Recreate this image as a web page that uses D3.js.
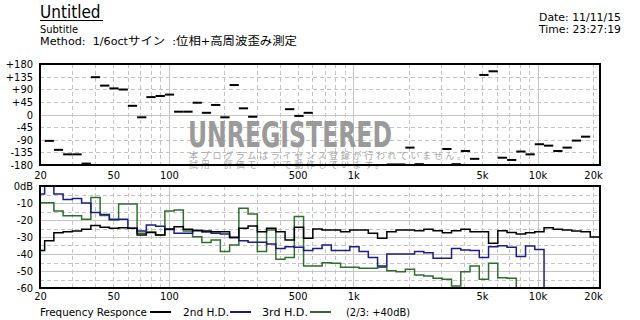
<!DOCTYPE html>
<html lang="ja">
<head>
<meta charset="UTF-8">
<title>Untitled</title>
<script src="https://cdn.jsdelivr.net/npm/d3@7/dist/d3.min.js"></script>
<style>
  body { margin: 0; background: #fff; }
  svg text { font-family: "DejaVu Sans Condensed", "Noto Sans CJK JP", sans-serif; }
</style>
</head>
<body>
<script>
// 1/6oct bands (Hz), index 0..60
const bands = [20, 22.45, 25.2, 28.28, 31.75, 35.64, 40, 44.9, 50.4, 56.57, 63.5, 71.27,
  80, 89.8, 100.8, 113.1, 127, 142.5, 160, 179.6, 201.6, 226.3, 254, 285.1,
  320, 359.2, 403.2, 452.5, 508, 570.2, 640, 718.4, 806.3, 905.1, 1016, 1140,
  1280, 1437, 1613, 1810, 2032, 2281, 2560, 2874, 3225, 3620, 4064, 4561,
  5120, 5747, 6451, 7241, 8127, 9123, 10240, 11494, 12902, 14482, 16255, 18246, 20480];

// phase (deg), null = not drawn
const phase = [null, -94, -126, -142, -142, -175, 133, 103, 93, 89, 31, -10,
  62, 66, 71, 10, 10, 42, 6, 34, -10, 105, 22, -8,
  null, null, null, 19, -5, 6, null, null, null, null, null, null,
  null, null, -178, -178, -118, -177, null, null, -123, -177, -130, -158,
  141, 154, -154, -162, -132, -142, -106, -111, -130, -118, -93, -79, null];

// Frequency Responce (dB)
const freqResp = [-38, -32.2, -27.5, -26.9, -26.5, -25.5, -23.3, -24.3, -24.9, -24.6, -24.9, -28.8,
  -27.3, -28.8, -25.3, -23.9, -25.5, -26.3, -26.5, -26.9, -26.9, -30.2, -24.9, -23.5,
  -26.9, -24.9, -26.9, -31.8, -24.3, -30.8, -25.3, -25.9, -25.9, -26.9, -25.9, -25.9,
  -27.8, -30.8, -26.9, -25.9, -25.9, -26.3, -25.5, -26.3, -27.5, -26.3, -25.5, -26.9,
  -26.9, -33.7, -26.3, -27.3, -28.2, -27.5, -26.9, -24.5, -25.5, -25.9, -26.5, -26.9, -30];

// 2nd H.D. (dB, +40dB)
const hd2 = [-4.7, 0, -4.7, -7.9, -7.3, -10, -15.6, -16.8, -19.6, -19.6, -24.9, -26.5,
  -22.9, -23.7, -25.6, -27.8, -27.8, -26, -27, -27.8, -28.2, -30.5, -32.2, -33.1,
  -33.1, -34.1, -36.7, -35.7, -36.1, -38, -36.7, -34.7, -38, -38, -35.7, -38.6,
  -42, -47, -40, -40, -40, -38.6, -39.2, -42.5, -42.5, -36.7, -37.6, -38,
  -42, -35.7, -35.1, -36.1, -41.4, -35.3, -37.3, -60];

// 3rd H.D. (dB, +40dB)
const hd3 = [-9.8, -9.8, -14.7, -17.5, -17.5, -19.6, -6.7, -17.3, -20, -10.6, -10.6, -27.8,
  -27, -28.8, -14.7, -14.1, -26.5, -29.8, -33.3, -31.8, -38.6, -34.7, -13.1, -16.5,
  -38.6, -25.9, -43.1, -42, -18, -47, -47, -45.1, -45.5, -47.8, -47.8, -48.4,
  -48.4, -47.8, -49.8, -50.4, -49, -52.4, -52.9, -54.3, -54.9, -58.8, -50.4, -47,
  -54.9, -45.5, -53.9, -54.3, -60];

const xTicks = [20, 50, 100, 500, 1000, 5000, 10000, 20000];
const xTickLabels = ["20", "50", "100", "500", "1k", "5k", "10k", "20k"];
const xMajorGrid = [100, 1000, 10000];
const xMinorGrid = [30, 40, 50, 60, 70, 80, 90, 200, 300, 400, 500, 600, 700, 800, 900,
  2000, 3000, 4000, 5000, 6000, 7000, 8000, 9000, 20000];
const phaseTicks = [180, 135, 90, 45, 0, -45, -90, -135, -180];
const phaseLabels = ["+180", "+135", "+90", "+45", "0", "-45", "-90", "-135", "-180"];
const dbTicks = [0, -10, -20, -30, -40, -50, -60];
const dbLabels = ["0dB", "-10", "-20", "-30", "-40", "-50", "-60"];
const dbMinor = [-5, -15, -25, -35, -45, -55];

const W = 640, H = 320;
const left = 40, right = 600;
const gridCol = "#c4c4c4";
const blue = "#1c1c86", green = "#2d6e2d";

const svg = d3.select("body").append("svg").attr("width", W).attr("height", H);

const x = d3.scaleLog().domain([20, 20000]).range([left, 593]);
const yP = d3.scaleLinear().domain([-180, 180]).range([165, 64]);
const yD = d3.scaleLinear().domain([-60, 0]).range([288, 186]);

// header
svg.append("text").attr("x", 40).attr("y", 18).style("font-size", "17px").text("Untitled");
svg.append("line").attr("x1", 40).attr("x2", 103).attr("y1", 20.5).attr("y2", 20.5)
  .attr("stroke", "#000").attr("stroke-width", 1);
svg.append("text").attr("x", 40).attr("y", 33).style("font-size", "11px").text("Subtitle");
svg.append("text").attr("x", 40).attr("y", 45).style("font-size", "11px")
  .style("white-space", "pre")
  .attr("textLength", 257).attr("lengthAdjust", "spacingAndGlyphs")
  .text("Method:  1/6octサイン  :位相+高周波歪み測定");
svg.append("text").attr("x", 539).attr("y", 21).style("font-size", "10px")
  .attr("textLength", 82).attr("lengthAdjust", "spacingAndGlyphs").text("Date: 11/11/15");
svg.append("text").attr("x", 539).attr("y", 33).style("font-size", "10px")
  .attr("textLength", 82).attr("lengthAdjust", "spacingAndGlyphs").text("Time: 23:27:19");

function grid(g, y, yMajor, yMinor, top, bottom) {
  g.selectAll(".vmin").data(xMinorGrid).join("line")
    .attr("x1", d => Math.round(x(d)) + 0.5).attr("x2", d => Math.round(x(d)) + 0.5)
    .attr("y1", top).attr("y2", bottom)
    .attr("stroke", gridCol).attr("stroke-dasharray", "4,3");
  g.selectAll(".vmaj").data(xMajorGrid).join("line")
    .attr("x1", d => Math.round(x(d)) + 0.5).attr("x2", d => Math.round(x(d)) + 0.5)
    .attr("y1", top).attr("y2", bottom)
    .attr("stroke", gridCol);
  g.selectAll(".hmin").data(yMinor).join("line")
    .attr("x1", left).attr("x2", right)
    .attr("y1", d => Math.round(y(d)) + 0.5).attr("y2", d => Math.round(y(d)) + 0.5)
    .attr("stroke", gridCol).attr("stroke-dasharray", "4,3");
  g.selectAll(".hmaj").data(yMajor).join("line")
    .attr("x1", left).attr("x2", right)
    .attr("y1", d => Math.round(y(d)) + 0.5).attr("y2", d => Math.round(y(d)) + 0.5)
    .attr("stroke", gridCol);
}

const gP = svg.append("g");
grid(gP, yP, [0], [135, 90, 45, -45, -90, -135], 64, 165);
const gD = svg.append("g");
grid(gD, yD, [-10, -20, -30, -40, -50], dbMinor, 186, 288);

// watermark
svg.append("text").attr("x", 188).attr("y", 147)
  .style("font-size", "36px").style("font-weight", "bold").attr("fill", "#9a9a9a")
  .attr("textLength", 204).attr("lengthAdjust", "spacingAndGlyphs").text("UNREGISTERED");
svg.append("text").attr("x", 189).attr("y", 159)
  .style("font-size", "9px").attr("fill", "#a8a8a8")
  .attr("textLength", 277).attr("lengthAdjust", "spacing")
  .text("本プログラムはライセンス登録が行われていません。");
svg.append("text").attr("x", 189).attr("y", 167.5)
  .style("font-size", "9px").attr("fill", "#a8a8a8")
  .attr("textLength", 195).attr("lengthAdjust", "spacing")
  .text("試用・評価モードで動作しています。");

// band edges in px
function edges(i) {
  const l = i === 0 ? x(bands[0]) : (x(bands[i - 1]) + x(bands[i])) / 2;
  const r = i === bands.length - 1 ? right : (x(bands[i]) + x(bands[i + 1])) / 2;
  return [l, r];
}

// clip paths
svg.append("clipPath").attr("id", "cp").append("rect")
  .attr("x", left).attr("y", 64).attr("width", right - left).attr("height", 101);
svg.append("clipPath").attr("id", "cd").append("rect")
  .attr("x", left).attr("y", 186).attr("width", right - left).attr("height", 102);

// phase dashes
svg.append("g").attr("clip-path", "url(#cp)")
  .selectAll("line").data(phase.map((v, i) => ({ v, i })).filter(d => d.v !== null))
  .join("line")
  .attr("x1", d => edges(d.i)[0]).attr("x2", d => edges(d.i)[1])
  .attr("y1", d => yP(d.v)).attr("y2", d => yP(d.v))
  .attr("stroke", "#000").attr("stroke-width", 2);

// step lines
const line = d3.line();
function stepPts(vals) {
  const pts = [];
  vals.forEach((v, i) => {
    const [l, r] = edges(i);
    pts.push([l, yD(v)], [r, yD(v)]);
  });
  return pts;
}
const gL = svg.append("g").attr("clip-path", "url(#cd)");
[[hd3, green], [hd2, blue], [freqResp, "#000"]].forEach(([vals, col]) => {
  gL.append("path").attr("d", line(stepPts(vals)))
    .attr("fill", "none").attr("stroke", col).attr("stroke-width", 1.5);
});

// frames
[[64, 165], [186, 288]].forEach(([t, b]) => {
  svg.append("rect").attr("x", left).attr("y", t).attr("width", right - left).attr("height", b - t)
    .attr("fill", "none").attr("stroke", "#000").attr("stroke-width", 2);
});

// axes
function styleAxis(g) {
  g.select(".domain").remove();
  g.selectAll(".tick line").remove();
  g.selectAll("text").style("font-size", "11px").attr("fill", "#000")
    .style("font-family", "DejaVu Sans Condensed");
}
svg.append("g").attr("transform", "translate(0,171)")
  .call(d3.axisBottom(x).tickValues(xTicks).tickSize(0).tickPadding(0)
    .tickFormat((d, i) => xTickLabels[i])).call(styleAxis)
  .selectAll("text").attr("dy", "0.71em");
svg.append("g").attr("transform", "translate(0,292)")
  .call(d3.axisBottom(x).tickValues(xTicks).tickSize(0).tickPadding(0)
    .tickFormat((d, i) => xTickLabels[i])).call(styleAxis)
  .selectAll("text").attr("dy", "0.71em");
svg.append("g").attr("transform", "translate(33,0)")
  .call(d3.axisLeft(yP).tickValues(phaseTicks).tickSize(0).tickPadding(0)
    .tickFormat((d, i) => phaseLabels[i])).call(styleAxis);
svg.append("g").attr("transform", "translate(33,0)")
  .call(d3.axisLeft(yD).tickValues(dbTicks).tickSize(0).tickPadding(0)
    .tickFormat((d, i) => dbLabels[i])).call(styleAxis);

// legend
const legend = [
  { label: "Frequency Responce", x: 40, w: 107, col: "#000", lx: 150 },
  { label: "2nd H.D.", x: 183, w: 46, col: blue, lx: 230 },
  { label: "3rd H.D.", x: 262, w: 46, col: green, lx: 310 }
];
legend.forEach(d => {
  svg.append("text").attr("x", d.x).attr("y", 316).style("font-size", "11px")
    .attr("textLength", d.w).attr("lengthAdjust", "spacingAndGlyphs").text(d.label);
  svg.append("line").attr("x1", d.lx).attr("x2", d.lx + 21).attr("y1", 312).attr("y2", 312)
    .attr("stroke", d.col).attr("stroke-width", 2);
});
svg.append("text").attr("x", 346).attr("y", 316).style("font-size", "11px")
  .text("(2/3: +40dB)");
</script>
</body>
</html>
